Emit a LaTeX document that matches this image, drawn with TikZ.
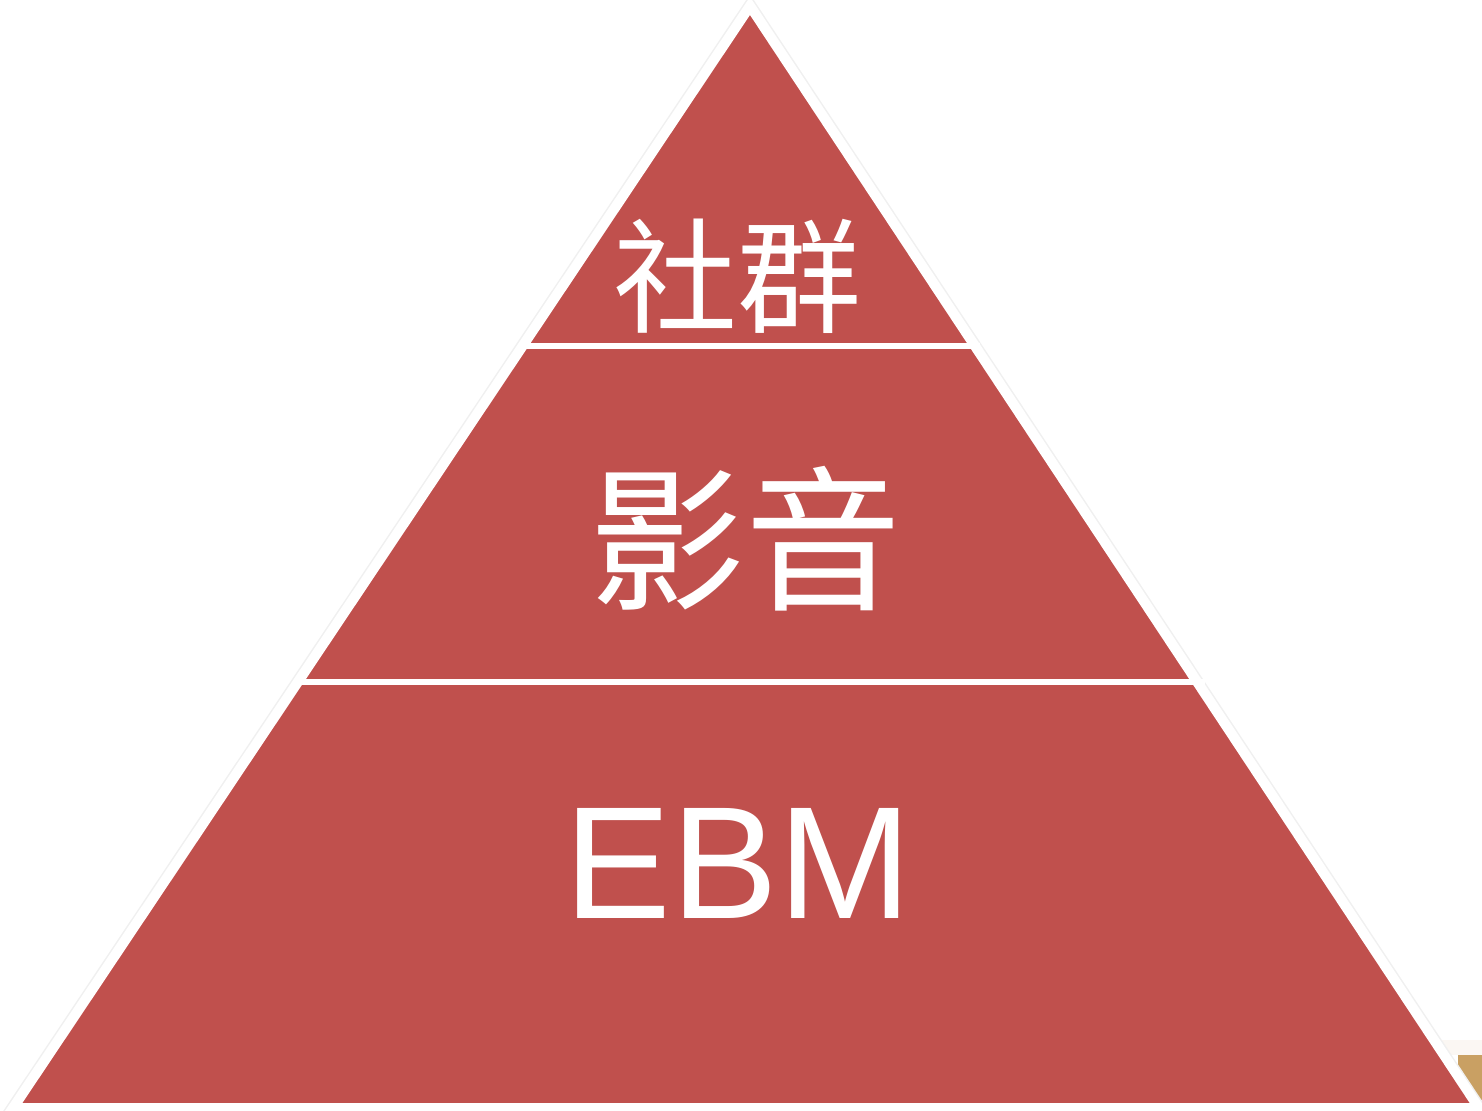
\documentclass[tikz,border=0pt]{standalone}
\usepackage{fontspec}
\setmainfont{Liberation Sans}
\newfontfamily\cjk{Noto Sans CJK TC}
\definecolor{pyrred}{HTML}{C0504D}
\definecolor{photo}{HTML}{C9A063}
\tikzset{
  layerlabel/.style={text=white, inner sep=0pt, anchor=center},
  divider/.style={white, line width=3pt},
}
\begin{document}
\begin{tikzpicture}[x=0.5pt, y=-0.5pt]
\useasboundingbox (0,0) rectangle (1482,1111);
% photo fragment at bottom right
\fill[photo] (1458,1055) rectangle (1482,1100);
\fill[white!92!photo] (1440,1040) rectangle (1482,1055);
% triangle with shadow and white outline
\coordinate (A) at (750,6);
\coordinate (L) at (13,1108);
\coordinate (R) at (1479,1108);
\draw[black!6, line width=6.5pt, line join=miter] (A) -- (L) -- (R) -- cycle;
\fill[pyrred] (A) -- (L) -- (R) -- cycle;
\draw[white, line width=5pt, line join=miter] (A) -- (L) -- (R) -- cycle;
% dividers
\coordinate (d1l) at (520,346);
\coordinate (d1r) at (980,346);
\coordinate (d2l) at (295,682);
\coordinate (d2r) at (1205,682);
\draw[divider] (d1l) -- (d1r);
\draw[divider] (d2l) -- (d2r);
% labels
\node[layerlabel, font=\cjk\fontsize{62}{62}\selectfont] (top) at (737,276) {社群};
\node[layerlabel, font=\cjk\fontsize{78}{78}\selectfont] (mid) at (745,539) {影音};
\node[layerlabel, font=\fontsize{80}{80}\selectfont] (bot) at (738,863) {EBM};
\end{tikzpicture}
\end{document}
